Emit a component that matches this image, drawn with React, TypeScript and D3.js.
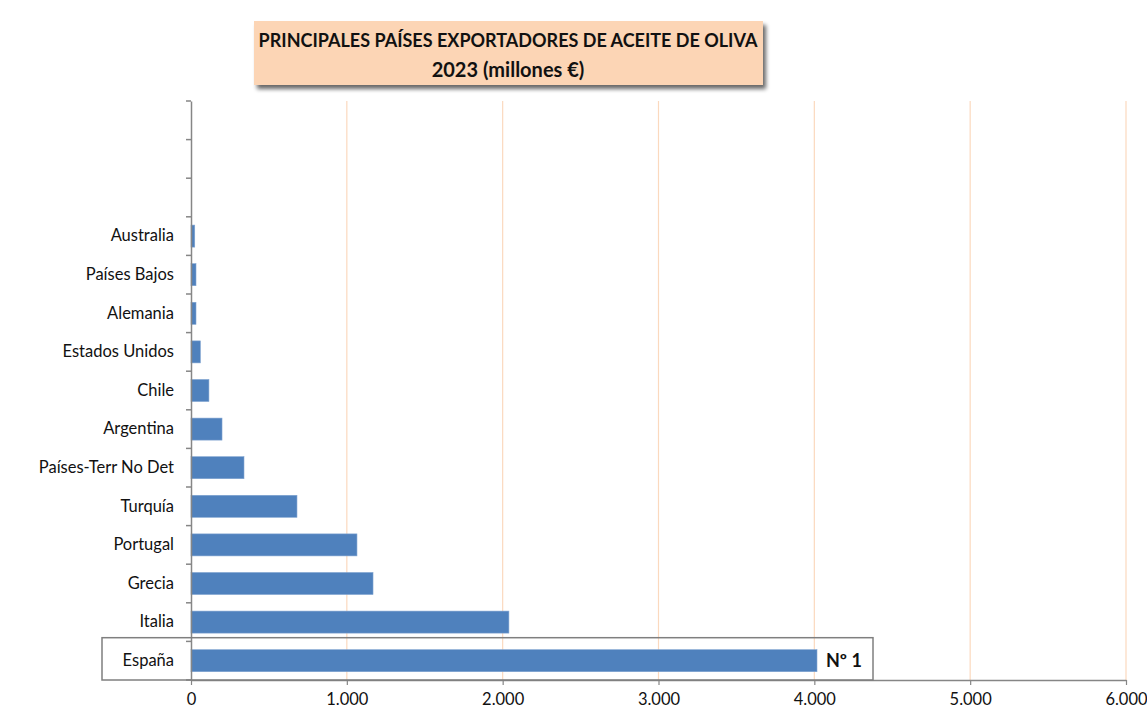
import React, { useEffect, useRef } from 'react';
import * as d3 from 'd3';

// Exportaciones de aceite de oliva 2023 (millones €), de abajo hacia arriba
const countries = [
  'España',
  'Italia',
  'Grecia',
  'Portugal',
  'Turquía',
  'Países-Terr No Det',
  'Argentina',
  'Chile',
  'Estados Unidos',
  'Alemania',
  'Países Bajos',
  'Australia',
];
const exports2023 = [4017, 2040, 1168, 1065, 680, 340, 199, 115, 60, 32, 32, 24];
// empty slots kept at the top of the category axis
const emptySlots = ['__a', '__b', '__c'];
const xTicks = [0, 1000, 2000, 3000, 4000, 5000, 6000];
const titleLines = ['PRINCIPALES PAÍSES EXPORTADORES DE ACEITE DE OLIVA', '2023 (millones €)'];

const FONT = 'Lato, "Open Sans", sans-serif';

const App = () => {
  const ref = useRef<SVGSVGElement>(null);

  useEffect(() => {
    const svg = d3.select(ref.current);
    svg.selectAll('*').remove();

    const width = 1147;
    const height = 720;
    const left = 191;
    const right = 1126;
    const top = 101;
    const bottom = 680;

    const data = countries.map((c, i) => ({ country: c, value: exports2023[i] }));

    const x = d3.scaleLinear().domain([0, 6000]).range([left, right]);
    const y = d3.scaleBand<string>()
      .domain([...countries, ...emptySlots])
      .range([bottom, top])
      .paddingInner(0.43)
      .paddingOuter(0.215);

    const es = d3.formatLocale({ decimal: ',', thousands: '.', grouping: [3], currency: ['', '€'] });
    const fmt = es.format(',d');

    svg.attr('width', width).attr('height', height);

    const defs = svg.append('defs');
    const shadow = defs.append('filter').attr('id', 'shadow')
      .attr('x', '-5%').attr('y', '-20%').attr('width', '115%').attr('height', '150%');
    shadow.append('feGaussianBlur').attr('in', 'SourceAlpha').attr('stdDeviation', 2);
    shadow.append('feOffset').attr('dx', 3).attr('dy', 4).attr('result', 'off');
    shadow.append('feComponentTransfer').append('feFuncA').attr('type', 'linear').attr('slope', 0.6);
    const merge = shadow.append('feMerge');
    merge.append('feMergeNode');
    merge.append('feMergeNode').attr('in', 'SourceGraphic');

    // gridlines
    svg.append('g')
      .selectAll('line')
      .data(xTicks.slice(1))
      .enter()
      .append('line')
      .attr('x1', d => x(d))
      .attr('x2', d => x(d))
      .attr('y1', top)
      .attr('y2', bottom)
      .attr('stroke', '#FBD9BE')
      .attr('stroke-width', 1.2);

    // bars
    svg.append('g')
      .selectAll('rect')
      .data(data)
      .enter()
      .append('rect')
      .attr('x', x(0))
      .attr('y', d => y(d.country)!)
      .attr('width', d => x(d.value) - x(0))
      .attr('height', y.bandwidth())
      .attr('fill', '#4F81BD')
      .attr('stroke', '#7FA3D0')
      .attr('stroke-width', 0.6);

    // x axis
    const xAxis = svg.append('g')
      .attr('transform', `translate(0,${bottom})`)
      .call(d3.axisBottom(x).tickValues(xTicks).tickFormat(d => fmt(d as number)).tickSize(5).tickSizeOuter(0));
    xAxis.select('.domain').attr('stroke', '#868686').attr('stroke-width', 1.5);
    xAxis.selectAll('.tick line').attr('stroke', '#868686').attr('stroke-width', 1.2);
    xAxis.selectAll('.tick text')
      .attr('font-family', FONT)
      .attr('font-size', 16.5)
      .attr('fill', '#111')
      .attr('dy', '1.05em');

    // y axis
    const yAxis = svg.append('g')
      .attr('transform', `translate(${left},0)`)
      .call(d3.axisLeft(y).tickSize(0).tickFormat(d => (emptySlots.includes(d) ? '' : d)));
    yAxis.select('.domain').attr('stroke', '#868686').attr('stroke-width', 1.5);
    yAxis.selectAll('.tick text')
      .attr('font-family', FONT)
      .attr('font-size', 16.5)
      .attr('fill', '#111')
      .attr('x', -17);

    // y ticks at the boundaries between categories
    const step = y.step();
    const boundaries = d3.range(0, y.domain().length + 1).map(i => bottom - i * step);
    svg.append('g')
      .selectAll('line')
      .data(boundaries)
      .enter()
      .append('line')
      .attr('x1', left - 5)
      .attr('x2', left)
      .attr('y1', d => d)
      .attr('y2', d => d)
      .attr('stroke', '#868686')
      .attr('stroke-width', 1.5);

    // highlight box around España
    const yEs = y('España')!;
    svg.append('rect')
      .attr('x', 102)
      .attr('y', yEs - 12)
      .attr('width', 873 - 102)
      .attr('height', bottom - (yEs - 12))
      .attr('fill', 'none')
      .attr('stroke', '#7F7F7F')
      .attr('stroke-width', 1.5);

    svg.append('text')
      .attr('x', x(exports2023[0]) + 9)
      .attr('y', yEs + y.bandwidth() / 2)
      .attr('dy', '0.35em')
      .attr('font-family', FONT)
      .attr('font-size', 18)
      .attr('font-weight', 'bold')
      .attr('fill', '#111')
      .text('Nº 1');

    // title box
    const tg = svg.append('g');
    tg.append('rect')
      .attr('x', 254)
      .attr('y', 21)
      .attr('width', 763 - 254)
      .attr('height', 64)
      .attr('fill', '#FCD5B5')
      .attr('filter', 'url(#shadow)');
    tg.selectAll('text.title')
      .data(titleLines)
      .enter()
      .append('text')
      .attr('class', 'title')
      .attr('x', 508)
      .attr('y', (_, i) => 41 + i * 29)
      .attr('dy', '0.35em')
      .attr('text-anchor', 'middle')
      .attr('font-family', FONT)
      .attr('font-size', (_, i) => (i === 0 ? 18 : 20))
      .attr('font-weight', 'bold')
      .attr('fill', '#111')
      .text(d => d);
  }, []);

  return <svg ref={ref} style={{ position: 'absolute', left: 0, top: 0 }} />;
};

export default App;
